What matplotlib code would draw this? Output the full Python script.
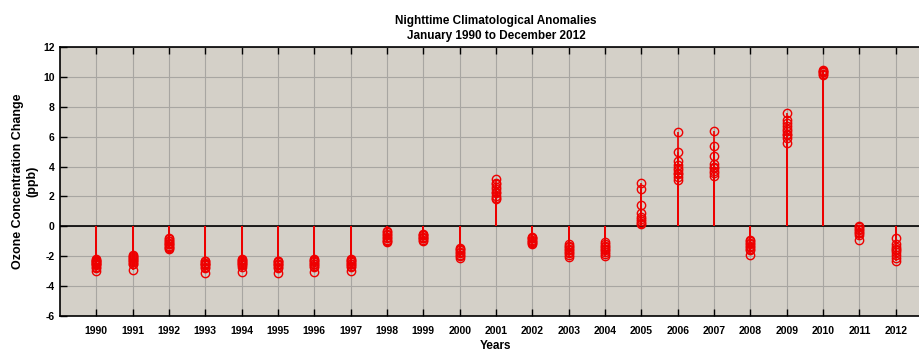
import numpy as np
import matplotlib
matplotlib.use('Agg')
import matplotlib.pyplot as plt

plt.rcParams['font.family'] = ['Liberation Sans', 'DejaVu Sans']

# monthly nighttime anomalies (ppb) grouped by year
years = list(range(1990, 2013))
anomalies = {
    1990: [-2.2, -2.25, -2.3, -2.35, -2.4, -2.45, -2.5, -2.55, -2.6, -2.7, -2.8, -3.0],
    1991: [-1.95, -2.0, -2.05, -2.1, -2.2, -2.25, -2.3, -2.4, -2.5, -2.55, -2.9],
    1992: [-0.75, -0.85, -0.95, -1.0, -1.1, -1.15, -1.2, -1.3, -1.35, -1.45, -1.55],
    1993: [-2.3, -2.35, -2.45, -2.5, -2.55, -2.6, -2.7, -2.8, -3.15],
    1994: [-2.2, -2.25, -2.3, -2.4, -2.45, -2.5, -2.6, -2.7, -3.05],
    1995: [-2.3, -2.35, -2.4, -2.5, -2.55, -2.6, -2.7, -2.8, -3.15],
    1996: [-2.2, -2.25, -2.3, -2.4, -2.5, -2.55, -2.65, -2.7, -3.05],
    1997: [-2.2, -2.25, -2.3, -2.4, -2.5, -2.55, -2.65, -2.75, -3.0],
    1998: [-0.3, -0.4, -0.5, -0.6, -0.7, -0.8, -0.9, -1.0, -1.05],
    1999: [-0.5, -0.55, -0.6, -0.7, -0.75, -0.8, -0.9, -1.0],
    2000: [-1.45, -1.55, -1.6, -1.7, -1.8, -1.9, -2.0, -2.1],
    2001: [1.8, 1.9, 2.0, 2.2, 2.3, 2.5, 2.6, 2.8, 2.9, 3.15],
    2002: [-0.7, -0.75, -0.8, -0.9, -1.0, -1.05, -1.1, -1.2],
    2003: [-1.2, -1.3, -1.4, -1.5, -1.6, -1.7, -1.8, -1.9, -2.05],
    2004: [-1.05, -1.15, -1.3, -1.4, -1.5, -1.6, -1.7, -1.85, -2.0],
    2005: [0.15, 0.25, 0.35, 0.5, 0.6, 0.9, 1.4, 2.5, 2.9],
    2006: [3.1, 3.3, 3.5, 3.6, 3.8, 3.9, 4.1, 4.4, 5.0, 6.3],
    2007: [3.4, 3.6, 3.7, 3.9, 4.0, 4.2, 4.7, 5.4, 6.4],
    2008: [-0.9, -1.0, -1.1, -1.2, -1.3, -1.4, -1.5, -1.6, -1.9],
    2009: [5.6, 5.9, 6.1, 6.2, 6.4, 6.5, 6.7, 6.9, 7.1, 7.6],
    2010: [10.1, 10.2, 10.3, 10.35, 10.4, 10.45],
    2011: [0.05, -0.05, -0.15, -0.25, -0.35, -0.45, -0.6, -0.9],
    2012: [-0.8, -1.2, -1.4, -1.5, -1.6, -1.7, -1.9, -2.1, -2.3],
}

fig = plt.figure(figsize=(9.2, 3.51), dpi=100)
ax = fig.add_axes([60 / 920, 35 / 351, 872 / 920, 269 / 351])
ax.set_facecolor('#d4d0c8')

red = '#ee0000'
for yr in years:
    vals = np.array(anomalies[yr])
    xs = np.full(len(vals), yr)
    ax.vlines(xs, 0, vals, color=red, linewidth=1.2, zorder=3)
    ax.plot(xs, vals, 'o', markersize=6, markerfacecolor='none',
            markeredgecolor=red, markeredgewidth=1.0, zorder=4)

ax.axhline(0, color='black', linewidth=1.2, zorder=2)

ax.set_xlim(1989, 2013)
ax.set_ylim(-6, 12)
ax.set_xticks(years)
ax.set_xticklabels([str(y) for y in years], fontsize=7.5, fontweight='bold')
ax.set_yticks(range(-6, 13, 2))
ax.set_yticklabels([str(v) for v in range(-6, 13, 2)], fontsize=7.5, fontweight='bold')
ax.tick_params(direction='in', length=5, width=1, top=True, right=True)
ax.tick_params(axis='y', pad=4)
ax.tick_params(axis='x', pad=7)
ax.grid(True, color='#a8a6a2', linewidth=0.8, zorder=1)
ax.set_axisbelow(True)
for s in ax.spines.values():
    s.set_color('black')
    s.set_linewidth(1.2)

ax.set_title('Nighttime Climatological Anomalies\nJanuary 1990 to December 2012',
             fontsize=8.5, fontweight='bold', pad=6, linespacing=1.3)
ax.set_ylabel('Ozone Concentration Change\n(ppb)', fontsize=9,
              fontweight='bold', labelpad=3, linespacing=1.3)
ax.set_xlabel('Years', fontsize=8.5, fontweight='bold', labelpad=3)

plt.savefig('out.png', dpi=100)
